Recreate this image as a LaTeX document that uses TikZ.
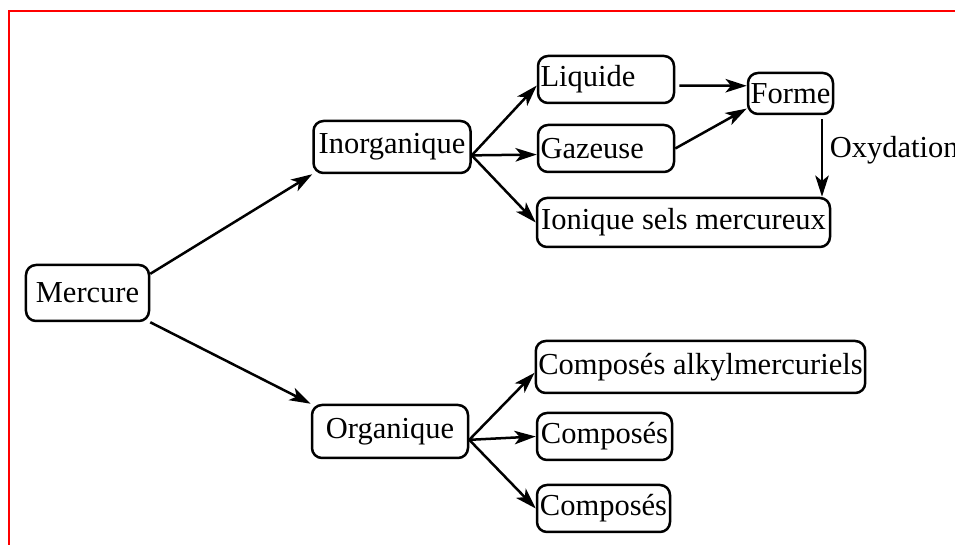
\documentclass[tikz,border=0pt]{standalone}
\usepackage{fontspec}
\setmainfont{Liberation Serif}
\usetikzlibrary{arrows.meta}

\begin{document}
\begin{tikzpicture}[x=0.4pt,y=-0.4pt,>={Stealth[length=8.5pt,width=5.4pt,inset=2.2pt]},
 box/.style={draw,line width=1pt,rounded corners=4pt,inner xsep=1pt,inner ysep=0pt,font=\fontsize{12.2}{14}\selectfont},
 arr/.style={->,line width=1pt}]
 \useasboundingbox (0,0) rectangle (955,545);
 \draw[red,line width=1pt] (9,545) -- (9,11) -- (955,11);
 % left column
 \node[box,minimum width=49.2pt,minimum height=22.4pt] (merc) at (87.5,293) {Mercure};
 \node[box,minimum width=62.8pt,minimum height=20.8pt] (inorg) at (392,147) {Inorganique};
 \node[box,minimum width=62.4pt,minimum height=21.2pt] (org) at (390,431.5) {Organique};
 % inorganic forms
 \node[box,text width=52.4pt,align=left,minimum height=18.8pt] (liq) at (606,79.5) {Liquide};
 \node[box,text width=52.4pt,align=left,minimum height=18.8pt] (gaz) at (606,148.5) {Gazeuse};
 \node[box,inner xsep=0pt,minimum width=34pt,minimum height=16.4pt] (form) at (790.5,93.5) {Forme};
 \node[box,minimum width=117.2pt,minimum height=19.6pt] (ion) at (683.5,222.5) {Ionique sels mercureux};
 % organic forms
 \node[box,minimum width=130.8pt,minimum height=20.8pt] (alk) at (700.5,367) {Composés alkylmercuriels};
 \node[box,minimum width=54pt,minimum height=18.8pt] (comp1) at (604.5,436.5) {Composés};
 \node[box,minimum width=53.2pt,minimum height=18.8pt] (comp2) at (603.5,508.5) {Composés};
 % connectors
 \draw[arr] (merc.17) -- (inorg.south west);
 \draw[arr] (merc.south east) -- (org.north west);
 \draw[arr] (inorg.-6) -- (liq.185);
 \draw[arr] (inorg.-6) -- (gaz.185);
 \draw[arr] (inorg.-6) -- (ion.west);
 \draw[arr,shorten <=1.6pt] (liq.-5) -- (form.170);
 \draw[arr] (gaz.east) -- (form.199);
 \draw[arr] ([xshift=12.6pt,yshift=-1.6pt]form.south) -- ([xshift=12.6pt]form.south |- ion.north)
   node[right,pos=0.4,inner xsep=2.6pt,font=\fontsize{12.2}{14}\selectfont] (oxy) {Oxydation};
 \draw[arr] (org.-6) -- (alk.182);
 \draw[arr] (org.-6) -- (comp1.west);
 \draw[arr] (org.-6) -- (comp2.west);
\end{tikzpicture}
\end{document}
